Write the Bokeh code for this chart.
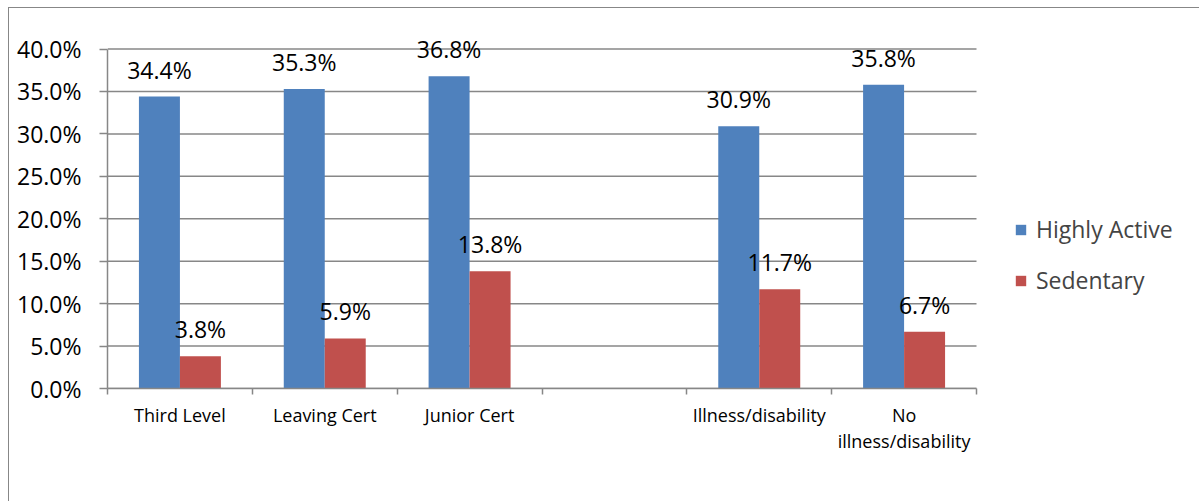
from bokeh.plotting import figure
from bokeh.models import (ColumnDataSource, Range1d, FixedTicker, Legend, LegendItem)
from bokeh.core.properties import value
from bokeh.embed import file_html
from bokeh.resources import INLINE

# ---- data ----
categories = ["Third Level", "Leaving Cert", "Junior Cert", "", "Illness/disability", "No\nillness/disability"]
highly_active = [34.4, 35.3, 36.8, None, 30.9, 35.8]
sedentary = [3.8, 5.9, 13.8, None, 11.7, 6.7]
y_ticks = [0, 5, 10, 15, 20, 25, 30, 35, 40]

BLUE = "#4F81BD"
RED = "#C0504D"
GRID = "#878787"
FONT = "Open Sans"

n = len(categories)
y_max = y_ticks[-1]
bar_w = 0.283
idx = [i for i, v in enumerate(highly_active) if v is not None]
src_a = ColumnDataSource(dict(
    x=[i + 0.5 - bar_w / 2 for i in idx],
    top=[highly_active[i] for i in idx],
    lab=[f"{highly_active[i]:.1f}%" for i in idx]))
src_s = ColumnDataSource(dict(
    x=[i + 0.5 + bar_w / 2 for i in idx],
    top=[sedentary[i] for i in idx],
    lab=[f"{sedentary[i]:.1f}%" for i in idx]))

# frame spans from the y axis to the right edge; categories occupy 869 px of 1093
x_end = n * 1093 / 869
y_end = y_max * 372 / 339.5

p = figure(width=1191, height=494, output_backend="svg", toolbar_location=None,
           x_range=Range1d(0, x_end), y_range=Range1d(0, y_end),
           min_border_left=98, min_border_right=0, min_border_top=8, min_border_bottom=114)
p.styles = {"margin-left": "8px", "margin-top": "7px",
            "border-left": f"1px solid {GRID}", "border-top": f"1px solid {GRID}"}
p.outline_line_color = None
p.background_fill_color = "white"
p.border_fill_color = "white"
p.xgrid.grid_line_color = None
p.ygrid.grid_line_color = None

# horizontal gridlines over the category area only
p.segment(x0=[0] * len(y_ticks), x1=[n] * len(y_ticks), y0=y_ticks, y1=y_ticks,
          line_color=GRID, line_width=1.5)

ra = p.vbar(x="x", top="top", width=bar_w, bottom=0, source=src_a, fill_color=BLUE, line_color=None)
rs = p.vbar(x="x", top="top", width=bar_w, bottom=0, source=src_s, fill_color=RED, line_color=None)

for src in (src_a, src_s):
    p.text(x="x", y="top", text="lab", source=src, text_align="center", text_baseline="alphabetic",
           y_offset=-27, text_font=value(FONT), text_font_size="23px", text_color="black")

# y axis
p.yaxis.bounds = (0, y_max)
p.yaxis.ticker = FixedTicker(ticks=y_ticks)
p.yaxis.major_label_overrides = {t: f"{t:.1f}%" for t in y_ticks}
p.yaxis.major_label_text_font = FONT
p.yaxis.major_label_text_font_size = "23px"
p.yaxis.major_label_text_color = "black"
p.yaxis.major_tick_out = 8
p.yaxis.major_tick_in = 0
p.yaxis.minor_tick_out = 0
p.yaxis.minor_tick_in = 0
p.yaxis.major_label_standoff = 18
p.yaxis.axis_line_color = GRID
p.yaxis.axis_line_width = 1.5
p.yaxis.major_tick_line_color = GRID
p.yaxis.major_tick_line_width = 1.5

# x axis
centers = [i + 0.5 for i in range(n)]
p.xaxis.bounds = (0, n)
p.xaxis.ticker = FixedTicker(ticks=centers, minor_ticks=list(range(n + 1)))
p.xaxis.major_label_overrides = {c: name for c, name in zip(centers, categories)}
p.xaxis.major_label_text_font = FONT
p.xaxis.major_label_text_font_size = "18px"
p.xaxis.major_label_text_color = "black"
p.xaxis.major_label_text_line_height = 1.1
p.xaxis.major_tick_out = 0
p.xaxis.major_tick_in = 0
p.xaxis.minor_tick_out = 6
p.xaxis.minor_tick_in = 0
p.xaxis.minor_tick_line_color = GRID
p.xaxis.minor_tick_line_width = 1.5
p.xaxis.axis_line_color = GRID
p.xaxis.axis_line_width = 1.5
p.xaxis.major_label_standoff = 8

legend = Legend(items=[LegendItem(label="Highly Active", renderers=[ra]),
                       LegendItem(label="Sedentary", renderers=[rs])],
                location=(907, 92), glyph_width=13, glyph_height=13, label_height=30,
                spacing=19, padding=0, margin=0, label_standoff=9,
                label_text_font=FONT, label_text_font_size="23px",
                border_line_color=None, background_fill_alpha=0)
p.add_layout(legend, "center")

open("out.html", "w").write(file_html(p, INLINE))
